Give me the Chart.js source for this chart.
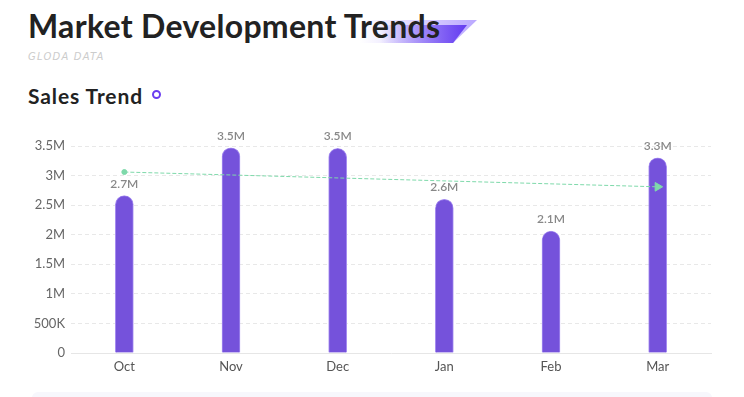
<!DOCTYPE html>
<html>
<head>
<meta charset="utf-8">
<script src="https://cdn.jsdelivr.net/npm/chart.js@4"></script>
<style>
  html, body { margin: 0; padding: 0; background: #fff; }
  body { width: 744px; height: 397px; position: relative; overflow: hidden; font-family: Lato, "Noto Sans", sans-serif; }
  #deco1 { position: absolute; left: 360px; top: 20px; width: 117px; height: 23px;
    clip-path: polygon(0 0, 100% 0, 79.5% 100%, 0 100%);
    background: linear-gradient(90deg, rgba(140,110,255,0) 0%, rgba(140,110,255,0.6) 100%); }
  #deco2 { position: absolute; left: 380px; top: 25px; width: 87px; height: 18px;
    clip-path: polygon(0 0, 100% 0, 84% 100%, 0 100%);
    background: linear-gradient(90deg, rgba(100,60,240,0) 0%, rgba(100,60,240,1) 100%); }
  #title { position: absolute; left: 28px; top: 6px; font: 700 32px Lato, sans-serif; color: #222; letter-spacing: 0.3px; }
  #sub { position: absolute; left: 28px; top: 51px; font: italic 400 10px "DejaVu Sans", sans-serif; color: #ccc; letter-spacing: 1.2px; }
  #sec { position: absolute; left: 28px; top: 83px; font: 700 21px Lato, sans-serif; color: #222; letter-spacing: 0.9px; }
  #dot { position: absolute; left: 152px; top: 90px; width: 5px; height: 5px; border: 2.5px solid #6a3df0; border-radius: 50%; }
  #panel { position: absolute; left: 32px; top: 392px; width: 680px; height: 20px; background: #f7f7fc; border-radius: 6px; }
  #wrap { position: absolute; left: 0; top: 110px; width: 744px; height: 273px; }
</style>
</head>
<body>
<div id="deco1"></div>
<div id="deco2"></div>
<div id="title">Market Development Trends</div>
<div id="sub">GLODA DATA</div>
<div id="sec">Sales Trend</div>
<div id="dot"></div>
<div id="panel"></div>
<div id="wrap"><canvas id="chart"></canvas></div>
<script>
// chart data
var months = ['Oct', 'Nov', 'Dec', 'Jan', 'Feb', 'Mar'];
var sales = [2660000, 3470000, 3460000, 2600000, 2060000, 3300000];
// trend arrow: start and end values
var trend = [3060000, null, null, null, null, 2810000];
var yTicks = [0, 500000, 1000000, 1500000, 2000000, 2500000, 3000000, 3500000];

function fmt(v) {
    if (v >= 1000000) return (v / 1000000) + 'M';
    if (v >= 1000) return (v / 1000) + 'K';
    return '' + v;
}

// value labels above bars
var barLabels = {
    id: 'barLabels',
    afterDatasetsDraw: function(chart) {
        var ctx = chart.ctx;
        var meta = chart.getDatasetMeta(1);
        ctx.save();
        ctx.font = '600 12px Lato, sans-serif';
        ctx.fillStyle = '#888';
        ctx.textAlign = 'center';
        ctx.textBaseline = 'bottom';
        meta.data.forEach(function(bar, i) {
            ctx.fillText((sales[i] / 1000000).toFixed(1) + 'M', bar.x, bar.y - 6);
        });
        ctx.restore();
    }
};

var ctx = document.getElementById('chart').getContext('2d');
new Chart(ctx, {
    data: {
        labels: months,
        datasets: [{
            type: 'line',
            data: trend,
            spanGaps: true,
            borderColor: '#7ed9aa',
            borderWidth: 1,
            borderDash: [4, 2],
            pointBackgroundColor: '#7ed9aa',
            pointBorderColor: '#7ed9aa',
            pointStyle: ['circle', false, false, false, false, 'triangle'],
            pointRotation: [0, 0, 0, 0, 0, 90],
            pointRadius: [2.5, 0, 0, 0, 0, 5],
            order: 0
        }, {
            type: 'bar',
            data: sales,
            backgroundColor: '#7552db',
            borderColor: '#a58cf0',
            borderWidth: 1,
            borderRadius: 9,
            borderSkipped: 'bottom',
            barThickness: 18,
            order: 1
        }]
    },
    options: {
        responsive: true,
        maintainAspectRatio: false,
        animation: false,
        layout: { padding: { top: 36, right: 33, left: 0, bottom: 0 } },
        plugins: { legend: { display: false }, tooltip: { enabled: false } },
        scales: {
            x: {
                grid: { display: false },
                border: { color: '#e6e6e6' },
                ticks: { color: '#555', font: { family: 'Lato', size: 13 }, padding: -2 },
                afterFit: function(scale) { scale.height = 30; }
            },
            y: {
                min: 0,
                max: 3500000,
                afterBuildTicks: function(scale) {
                    scale.ticks = yTicks.map(function(v) { return { value: v }; });
                },
                grid: { color: '#e8e8e8', tickLength: 0 },
                border: { display: false, dash: [4, 3] },
                ticks: {
                    color: '#666',
                    font: { family: 'Lato', size: 13 },
                    padding: 6,
                    callback: function(v) { return fmt(v); }
                },
                afterFit: function(scale) { scale.width = 71; }
            }
        }
    },
    plugins: [barLabels]
});
</script>
</body>
</html>
